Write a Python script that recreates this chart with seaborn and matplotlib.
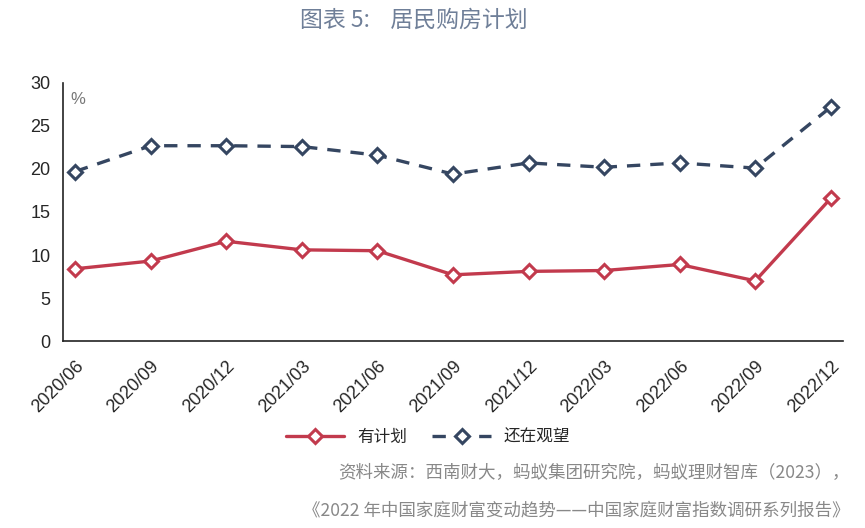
import numpy as np
import pandas as pd
import matplotlib
matplotlib.use("Agg")
import matplotlib.pyplot as plt
import seaborn as sns

# 数据
periods = ["2020/06", "2020/09", "2020/12", "2021/03", "2021/06", "2021/09",
           "2021/12", "2022/03", "2022/06", "2022/09", "2022/12"]
has_plan = [8.4, 9.3, 11.6, 10.6, 10.5, 7.7, 8.1, 8.2, 8.9, 7.0, 16.6]
waiting = [19.7, 22.7, 22.7, 22.6, 21.6, 19.4, 20.7, 20.2, 20.7, 20.1, 27.2]

red = "#c23a4d"
navy = "#354661"

sns.set_style("white")
plt.rcParams['font.family'] = ['Liberation Sans', 'Noto Sans CJK SC', 'DejaVu Sans']
plt.rcParams['axes.unicode_minus'] = False

fig = plt.figure(figsize=(8.65, 5.28), dpi=100)
ax = fig.add_axes([0.0728, 0.354, 0.9017, 0.489])

df = pd.DataFrame({"期间": periods, "有计划": has_plan, "还在观望": waiting})
x = np.arange(len(periods))

sns.lineplot(x=x, y=df["有计划"], ax=ax, color=red, lw=2.4, marker="D",
             markersize=7.5, markerfacecolor="white", markeredgecolor=red,
             markeredgewidth=2.2, label="有计划")
sns.lineplot(x=x, y=df["还在观望"], ax=ax, color=navy, lw=2.4, marker="D",
             markersize=7.5, markerfacecolor="white", markeredgecolor=navy,
             markeredgewidth=2.2, label="还在观望")
ax.lines[1].set_dashes((4, 3))

ax.set_xlim(-0.16, 10.16)
ax.set_ylim(0, 30)
ax.set_yticks(range(0, 31, 5))
ax.set_xticks(x)
ax.set_xticklabels(periods, rotation=45, ha="right", rotation_mode="anchor",
                   fontsize=13)
ax.tick_params(axis="x", which="major", length=0, pad=12)
ax.set_xticks(x - 0.16, minor=True)
ax.tick_params(axis="x", which="minor", length=6, width=1.2, color="#222222",
               direction="out")
ax.tick_params(axis="y", length=5, width=1.2, color="#222222", direction="out",
               labelsize=13, pad=4)
for s in ["top", "right"]:
    ax.spines[s].set_visible(False)
for s in ["left", "bottom"]:
    ax.spines[s].set_color("#222222")
    ax.spines[s].set_linewidth(1.2)
ax.set_xlabel("")
ax.set_ylabel("")

ax.text(0.01, 0.92, "%", transform=ax.transAxes, fontsize=12, color="#777777")

ax.get_legend().remove()
handles, labels = ax.get_legend_handles_labels()
fig.legend(handles, labels, loc="center", bbox_to_anchor=(0.495, 0.172), ncol=2,
           frameon=False, handlelength=3.5, columnspacing=1.5,
           prop={"family": ["Noto Sans CJK SC"], "size": 12})

fig.text(0.478, 0.962, "图表 5:    居民购房计划", ha="center", va="center",
         fontsize=16.5, color="#6f7f98", fontweight="medium",
         family=["Noto Sans CJK SC", "DejaVu Sans"])
fig.text(0.982, 0.104, "资料来源：西南财大，蚂蚁集团研究院，蚂蚁理财智库（2023），",
         ha="right", va="center", fontsize=12.6, color="#888888",
         family=["Noto Sans CJK SC", "DejaVu Sans"])
fig.text(0.982, 0.034, "《2022 年中国家庭财富变动趋势——中国家庭财富指数调研系列报告》",
         ha="right", va="center", fontsize=12.6, color="#888888",
         family=["Noto Sans CJK SC", "DejaVu Sans"])

fig.savefig("out.png", dpi=100, facecolor="white")
